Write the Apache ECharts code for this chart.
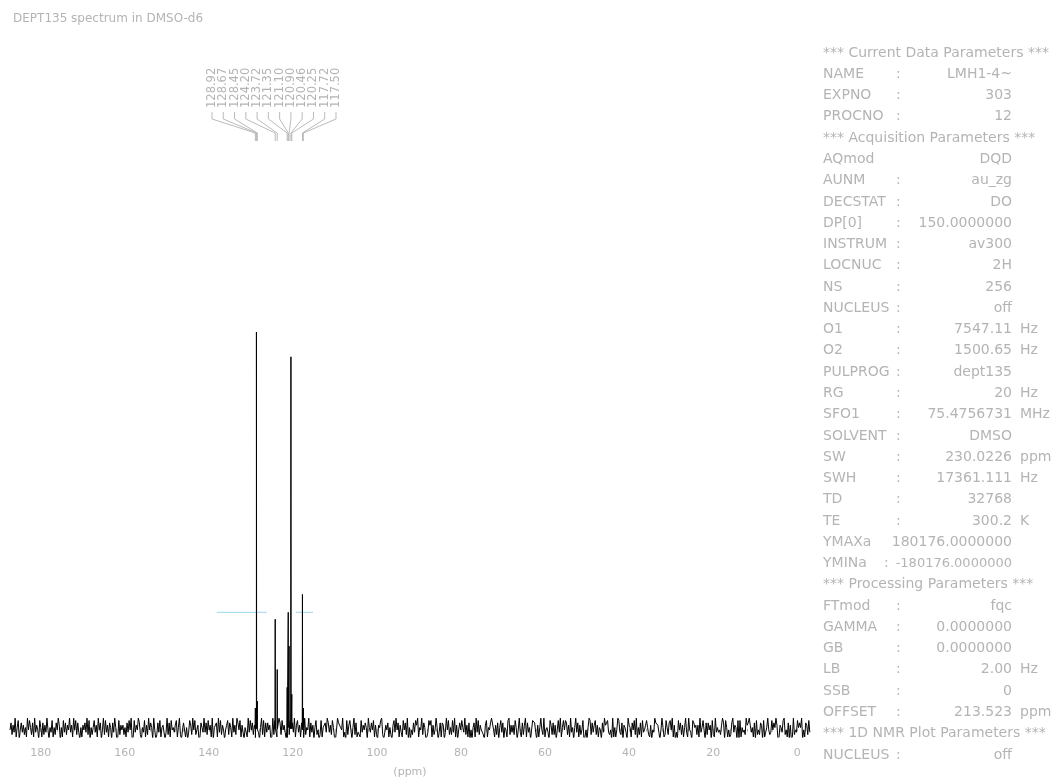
<!DOCTYPE html>
<html><head><meta charset="utf-8">
<script src="https://cdn.jsdelivr.net/npm/echarts@6/dist/echarts.min.js"></script>
<style>html,body{margin:0;padding:0;background:#fff}#c{width:1061px;height:783px}</style>
</head><body><div id="c"></div>
<script>
const titleText = 'DEPT135 spectrum in DMSO-d6';
const tickLabels = [180, 160, 140, 120, 100, 80, 60, 40, 20, 0];
const peakPpm = [128.92, 128.67, 128.45, 124.20, 123.72, 121.35, 121.10, 120.90, 120.46, 120.25, 117.72, 117.50];
const peakHeight = [3.0, 57.6, 4.0, 15.9, 8.6, 6.0, 16.9, 12.0, 54.0, 5.0, 19.5, 3.0];
const peakLabels = ['128.92', '128.67', '128.45', '124.20', '123.72', '121.35', '121.10', '120.90', '120.46', '120.25', '117.72', '117.50'];
const noiseDigits =
  '47263915804736251948' + '52719364085172639405' + '38152749605183726493' + '61948273051647392805' +
  '25836194704928361750' + '73950182646251738490' + '18364972053816294750' + '94027381566039271845' +
  '36815920477150386294' + '82460175393728461905' + '57193826404682751936' + '29748163055193847260' +
  '64305928173746019285' + '15972846300528473916' + '83617409254917360582' + '40281567397362851049' +
  '76549130826840592713' + '21836475095374816206' + '58920364715206839471' + '63184729050427386915' +
  '49275013868162495037' + '17603948252839160474' + '85392617040571938264' + '32068154799416270583' +
  '70541892636285049317' + '26917350488730615942' + '91453086272604839158' + '48726193505937162480' +
  '14059827368261540739' + '67832409151498327065' + '30965174829052718346' + '85216043977630495128' +
  '52784916030847261593' + '19430875626193584072' + '74608219353426970851' + '41279365080815342967' +
  '96351708242760813594' + '23847596016538924170' + '60192438575904176283';
const ppmStart = 187.3, ppmEnd = -3.0;
const thresholdLevel = 16.9;
const thresholdSegments = [[138.1, 126.2], [119.3, 115.2]];
const paramLines = [
  ['*** Current Data Parameters ***'],
  ['NAME', ':', 'LMH1-4~', ''],
  ['EXPNO', ':', '303', ''],
  ['PROCNO', ':', '12', ''],
  ['*** Acquisition Parameters ***'],
  ['AQmod', '', 'DQD', ''],
  ['AUNM', ':', 'au_zg', ''],
  ['DECSTAT', ':', 'DO', ''],
  ['DP[0]', ':', '150.0000000', ''],
  ['INSTRUM', ':', 'av300', ''],
  ['LOCNUC', ':', '2H', ''],
  ['NS', ':', '256', ''],
  ['NUCLEUS', ':', 'off', ''],
  ['O1', ':', '7547.11', 'Hz'],
  ['O2', ':', '1500.65', 'Hz'],
  ['PULPROG', ':', 'dept135', ''],
  ['RG', ':', '20', 'Hz'],
  ['SFO1', ':', '75.4756731', 'MHz'],
  ['SOLVENT', ':', 'DMSO', ''],
  ['SW', ':', '230.0226', 'ppm'],
  ['SWH', ':', '17361.111', 'Hz'],
  ['TD', ':', '32768', ''],
  ['TE', ':', '300.2', 'K'],
  ['YMAXa', '', '180176.0000000', ''],
  ['YMINa', ':', '-180176.0000000', ''],
  ['*** Processing Parameters ***'],
  ['FTmod', ':', 'fqc', ''],
  ['GAMMA', ':', '0.0000000', ''],
  ['GB', ':', '0.0000000', ''],
  ['LB', ':', '2.00', 'Hz'],
  ['SSB', ':', '0', ''],
  ['OFFSET', ':', '213.523', 'ppm'],
  ['*** 1D NMR Plot Parameters ***'],
  ['NUCLEUS', ':', 'off', '']
];

// build spectrum from noise + peaks
const N = noiseDigits.length;
const spec = [];
for (let i = 0; i < N; i++) {
  const p = ppmStart + (ppmEnd - ppmStart) * i / (N - 1);
  spec.push([p, (Number(noiseDigits[i]) - 4.5) * 0.34]);
}
peakPpm.forEach((p, i) => {
  spec.push([p + 0.05, 0], [p, peakHeight[i]], [p - 0.05, 0]);
});
spec.sort((a, b) => b[0] - a[0]);

const chart = echarts.init(document.getElementById('c'));
const minorTicks = [];
for (let v = 186; v >= -2; v -= 2) minorTicks.push(v);

const series = [{
  type: 'line', data: spec, showSymbol: false, sampling: 'none',
  lineStyle: { color: '#000', width: 1 }, animation: false, z: 3
}];
thresholdSegments.forEach(seg => {
  series.push({
    type: 'line', data: [[seg[0], thresholdLevel], [seg[1], thresholdLevel]],
    showSymbol: false, lineStyle: { color: '#9ad6ee', width: 1 }, animation: false, z: 2
  });
});

chart.setOption({
  backgroundColor: '#fff',
  animation: false,
  title: { text: titleText, left: 8, top: 8, textStyle: { fontFamily: 'DejaVu Sans', fontSize: 12, fontWeight: 'normal', color: '#b4b4b4' } },
  grid: { left: 10, right: 251, top: 40, bottom: 43 },
  xAxis: {
    type: 'value', inverse: true, min: -3.04, max: 187.3,
    axisLine: { show: false },
    splitLine: { show: false },
    axisTick: { show: true, customValues: minorTicks, length: 3, lineStyle: { color: '#b4b4b4' } },
    axisLabel: { customValues: tickLabels, color: '#b4b4b4', fontFamily: 'DejaVu Sans', fontSize: 11, margin: 11 },
    name: '(ppm)', nameLocation: 'middle', nameGap: 30,
    nameTextStyle: { color: '#b4b4b4', fontFamily: 'DejaVu Sans', fontSize: 11 }
  },
  yAxis: { type: 'value', min: -1.2, max: 100, show: false, splitLine: { show: false } },
  series: series
});

// graphics: peak labels, leader lines, parameter panel
const g = [];
const colX0 = 212, colX1 = 336;
peakPpm.forEach((p, i) => {
  const lx = colX0 + (colX1 - colX0) * i / (peakPpm.length - 1);
  const px = chart.convertToPixel({ gridIndex: 0 }, [p, 0])[0];
  g.push({
    type: 'text', x: lx, y: 108, rotation: Math.PI / 2,
    style: { text: peakLabels[i], fill: '#b4b4b4', font: '11.5px "DejaVu Sans"', align: 'left', verticalAlign: 'middle' }
  });
  g.push({
    type: 'polyline', shape: { points: [[lx, 112], [lx, 119], [px, 133], [px, 141]] },
    style: { stroke: '#aaa', lineWidth: 0.8, fill: null }
  });
});
const lineH = 21.27, top0 = 53;
paramLines.forEach((ln, i) => {
  const y = top0 + i * lineH;
  const font = '14px "DejaVu Sans"';
  const col = '#b4b4b4';
  g.push({ type: 'text', x: 823, y: y, style: { text: ln[0], fill: col, font: font, verticalAlign: 'middle' } });
  if (ln.length === 1) return;
  const isMin = ln[0] === 'YMINa';
  if (ln[1]) g.push({ type: 'text', x: isMin ? 884 : 896, y: y, style: { text: ln[1], fill: col, font: font, verticalAlign: 'middle' } });
  g.push({ type: 'text', x: 1012, y: y, style: { text: ln[2], fill: col, font: isMin ? '13px "DejaVu Sans"' : font, align: 'right', verticalAlign: 'middle' } });
  if (ln[3]) g.push({ type: 'text', x: 1020, y: y, style: { text: ln[3], fill: col, font: font, verticalAlign: 'middle' } });
});
chart.setOption({ graphic: g });
</script>
</body></html>
